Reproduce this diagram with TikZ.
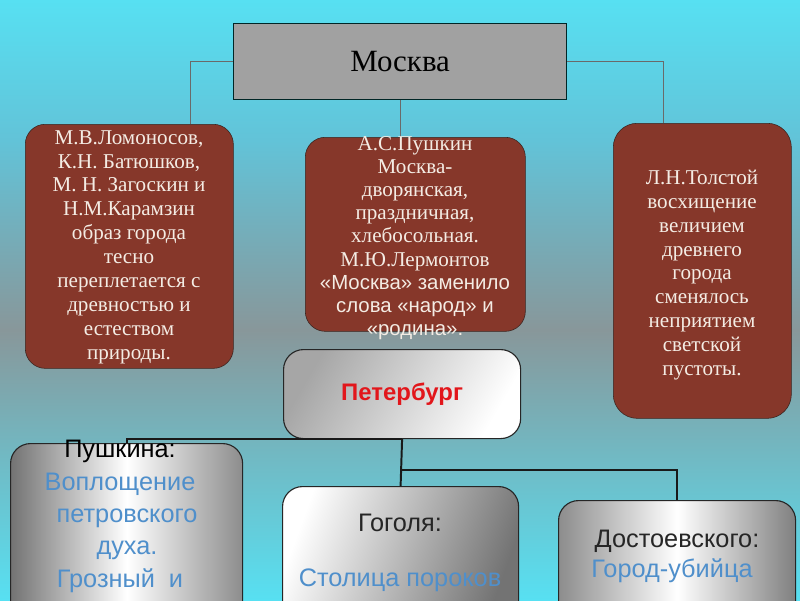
\documentclass[tikz,border=0pt]{standalone}
\usepackage{fontspec}
\setmainfont{Liberation Serif}
\setsansfont{Liberation Sans}
\usetikzlibrary{positioning}
\definecolor{skycyan}{HTML}{57E0F2}
\definecolor{skyblue}{HTML}{62C3D8}
\definecolor{midgray}{HTML}{88979A}
\definecolor{brick}{HTML}{86372A}
\definecolor{brickline}{HTML}{3A2520}
\definecolor{paletxt}{HTML}{F4ECE4}
\definecolor{blutxt}{HTML}{4F8FCB}
\definecolor{redtxt}{HTML}{E2161B}
\definecolor{linegray}{HTML}{6A6A6A}
\newcommand{\sanline}{\sffamily\fontsize{14.5}{17}\selectfont}
\begin{document}
\begin{tikzpicture}[x=0.025cm,y=-0.025cm,
  brickbox/.style={draw=brickline,fill=brick,rounded corners=0.5cm,anchor=north west,inner sep=0pt},
  bricktext/.style={text=paletxt,align=center,inner sep=0pt,font=\fontsize{15}{17}\selectfont},
  silverbox/.style={draw=black!85,line width=0.8pt,rounded corners=0.5cm,anchor=north west,inner sep=0pt},
  spbtext/.style={align=center,inner sep=0pt,text=blutxt,font=\sffamily\fontsize{18}{23}\selectfont},
  thinlink/.style={draw=linegray,line width=0.6pt},
  link/.style={draw=black!90,line width=1.4pt}]
\useasboundingbox (0,0) rectangle (800,600);
\clip (0,0) rectangle (800,600);
\shade[top color=skycyan,bottom color=skyblue] (0,0) rectangle (800,140);
\shade[top color=skyblue,bottom color=midgray] (0,140) rectangle (800,330);
\shade[top color=midgray,bottom color=skycyan] (0,330) rectangle (800,600);

\node[draw=black!70!teal,line width=0.8pt,fill=black!37,anchor=north west,inner sep=0pt,
  minimum width=8.325cm,minimum height=1.9cm,font=\fontsize{22}{24}\selectfont] (moskva) at (233,23) {Москва};

\node[brickbox,minimum width=5.2cm,minimum height=6.1cm] (lomonosov) at (25,124) {};
\node[brickbox,minimum width=5.5cm,minimum height=4.85cm] (pushkinLerm) at (305,137) {};
\node[brickbox,minimum width=4.45cm,minimum height=7.375cm,rounded corners=0.6cm] (tolstoy) at (613,123) {};

\coordinate (lomDrop) at (190,124);
\coordinate (tolDrop) at (663,123);
\draw[thinlink] (moskva.west) -| (lomDrop);
\draw[thinlink] (moskva.east) -| (tolDrop);
\draw[thinlink] (moskva.south) -- (moskva.south |- pushkinLerm.north);

\node[bricktext] (lomonosovTxt) at (129,247) {М.В.Ломоносов,\\ К.Н. Батюшков,\\ М. Н. Загоскин и\\ Н.М.Карамзин\\ образ города\\ тесно\\ переплетается с\\ древностью и\\ естеством\\ природы.};
\node[bricktext,font=\fontsize{15}{16.5}\selectfont] (pushkinLermTxt) at (415,238) {А.С.Пушкин\\ Москва-\\ дворянская,\\ праздничная,\\ хлебосольная.\\ М.Ю.Лермонтов\\ \sanline «Москва» заменило\\ \sanline слова «народ» и\\ \sanline «родина».};
\node[bricktext] (tolstoyTxt) at (702,275) {Л.Н.Толстой\\ восхищение\\ величием\\ древнего\\ города\\ сменялось\\ неприятием\\ светской\\ пустоты.};

\node[silverbox,left color=black!35,right color=white,shading angle=60,
  minimum width=5.925cm,minimum height=2.225cm,text=redtxt,font=\sffamily\bfseries\fontsize{17}{20}\selectfont] (piter) at (283,349) {Петербург};

\node[silverbox,left color=black!55,right color=black!45,middle color=white,
  minimum width=5.8cm,minimum height=4.425cm] (pushkinSpb) at (10,443) {};
\node[silverbox,left color=white,right color=black!55,shading angle=70,
  minimum width=5.9cm,minimum height=3.35cm] (gogol) at (282,486) {};
\node[silverbox,left color=black!45,right color=black!50,middle color=white,
  minimum width=5.925cm,minimum height=3cm] (dostoevsky) at (558,500) {};

\coordinate (fork) at (400,470);
\draw[link] (pushkinSpb.north) |- (piter.south);
\draw[link] (piter.south) -- (gogol.north);
\draw[link] (fork) -| (dostoevsky.north);

\node[spbtext,anchor=north] (pushkinSpbTxt) at (120,440) {\textcolor{black}{Пушкина:}\\ Воплощение\\ \ \ петровского\\ \ \ духа.\\ Грозный \ и};
\node[spbtext,text=black!85] (gogolHead) at (400,523) {Гоголя:};
\node[spbtext] (gogolTxt) at (400,580) {Столица пороков};
\node[spbtext,text=black!85] (dostHead) at (677,541) {Достоевского:};
\node[spbtext] (dostTxt) at (672,571) {Город-убийца};
\end{tikzpicture}
\end{document}
